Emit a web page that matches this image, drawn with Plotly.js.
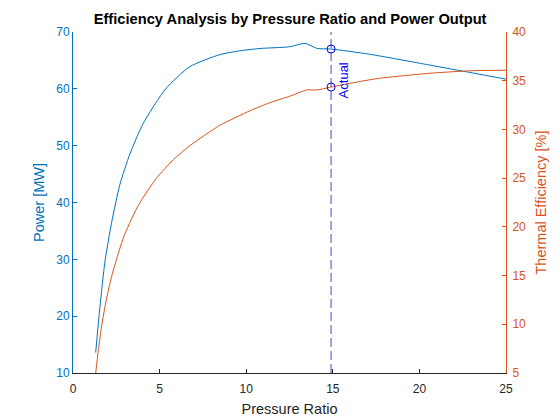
<!DOCTYPE html>
<html>
<head>
<meta charset="utf-8">
<script src="https://cdn.plot.ly/plotly-3.0.1.min.js"></script>
<style>html,body{margin:0;padding:0;background:#fff}#chart{width:560px;height:420px}</style>
</head>
<body>
<div id="chart"></div>
<script>
// Data
var powerPR = [1.31, 1.55, 1.84, 2.23, 2.71, 3.28, 4.05, 5.35, 6.74, 8.46, 9.65, 10.8, 12.5, 13.4, 14.1, 14.9, 17.1, 20.56, 23.06, 25.0];
var powerMW = [13.6, 21.5, 29.5, 36.5, 43.2, 48.5, 53.9, 60.0, 63.9, 66.0, 66.7, 67.1, 67.4, 68.0, 67.1, 67.0, 66.1, 64.2, 62.8, 61.7];
var effPR = [1.31, 1.46, 1.65, 1.9, 2.2, 2.6, 3.0, 3.8, 4.82, 5.8, 6.8, 8.46, 10.2, 11.3, 12.5, 13.5, 14.1, 14.9, 16.5, 17.7, 20.56, 23.06, 25.0];
var thermalEff = [5.0, 7.3, 9.8, 12.3, 14.7, 17.2, 19.3, 22.3, 25.0, 26.9, 28.4, 30.4, 31.9, 32.7, 33.4, 34.05, 34.05, 34.35, 34.9, 35.25, 35.76, 36.03, 36.07];
var actualPR = [14.9];
var actualPower = [67.0];
var actualEff = [34.35];
var actualLabel = 'Actual';
var xTicks = [0, 5, 10, 15, 20, 25];
var leftTicks = [10, 20, 30, 40, 50, 60, 70];
var rightTicks = [5, 10, 15, 20, 25, 30, 35, 40];

var blue = '#0072BD', orange = '#D95319';
var font = '"Liberation Sans", Arial, Helvetica, sans-serif';

var traces = [
  {x: powerPR, y: powerMW, type: 'scatter', mode: 'lines', line: {color: blue, width: 1, shape: 'spline', smoothing: 0.6}, xaxis: 'x', yaxis: 'y', hoverinfo: 'skip'},
  {x: effPR, y: thermalEff, type: 'scatter', mode: 'lines', line: {color: orange, width: 1, shape: 'spline', smoothing: 0.6}, xaxis: 'x', yaxis: 'y2', hoverinfo: 'skip'},
  {x: [actualPR[0], actualPR[0]], y: [10, 70], type: 'scatter', mode: 'lines', line: {color: '#5540B5', width: 1, dash: '9px,4px'}, xaxis: 'x', yaxis: 'y', hoverinfo: 'skip'},
  {x: actualPR, y: actualPower, type: 'scatter', mode: 'markers', marker: {symbol: 'circle-open', size: 8, color: '#0000FF', line: {width: 1, color: '#0000FF'}}, xaxis: 'x', yaxis: 'y'},
  {x: actualPR, y: actualEff, type: 'scatter', mode: 'markers', marker: {symbol: 'circle-open', size: 8, color: '#0000FF', line: {width: 1, color: '#0000FF'}}, xaxis: 'x', yaxis: 'y2'}
];

var layout = {
  width: 560, height: 420,
  margin: {l: 73, r: 54, t: 32, b: 47},
  paper_bgcolor: '#fff', plot_bgcolor: '#fff',
  showlegend: false,
  font: {family: font, size: 12, color: '#262626'},
  title: {text: '<b>Efficiency Analysis by Pressure Ratio and Power Output</b>', font: {family: font, size: 14.7, color: '#000'}, x: 0.518, xanchor: 'center', y: 0.955, yanchor: 'middle', yref: 'container'},
  xaxis: {
    range: [0, 25], tickvals: xTicks, ticktext: xTicks.map(String), ticks: 'inside', ticklen: 4, tickcolor: '#262626',
    showline: true, linecolor: '#262626', linewidth: 1, showgrid: false, zeroline: false,
    tickfont: {size: 12, color: '#262626'}, ticklabelstandoff: 5,
    title: {text: 'Pressure Ratio', font: {size: 14.5, color: '#262626'}, standoff: 8}
  },
  yaxis: {
    range: [10, 70], tickvals: leftTicks, ticktext: leftTicks.map(String), ticks: 'inside', ticklen: 4, tickcolor: blue,
    showline: true, linecolor: blue, linewidth: 1, showgrid: false, zeroline: false,
    tickfont: {size: 12, color: blue},
    title: {text: 'Power [MW]', font: {size: 14.5, color: blue}, standoff: 8}
  },
  yaxis2: {
    range: [5, 40], tickvals: rightTicks, ticktext: rightTicks.map(String), ticks: 'inside', ticklen: 4, tickcolor: orange,
    overlaying: 'y', side: 'right', anchor: 'x',
    showline: true, linecolor: orange, linewidth: 1, showgrid: false, zeroline: false,
    tickfont: {size: 12, color: orange}, ticklabelstandoff: 3,
    title: {text: 'Thermal Efficiency [%]', font: {size: 14.5, color: orange}, standoff: 10}
  },
  annotations: [
    {x: actualPR[0], y: 61.5, xref: 'x', yref: 'y', text: actualLabel, showarrow: false, textangle: -90, xshift: 12, font: {family: font, size: 13, color: '#0000FF'}}
  ]
};

Plotly.newPlot('chart', traces, layout, {displayModeBar: false, staticPlot: true});
</script>
</body>
</html>
